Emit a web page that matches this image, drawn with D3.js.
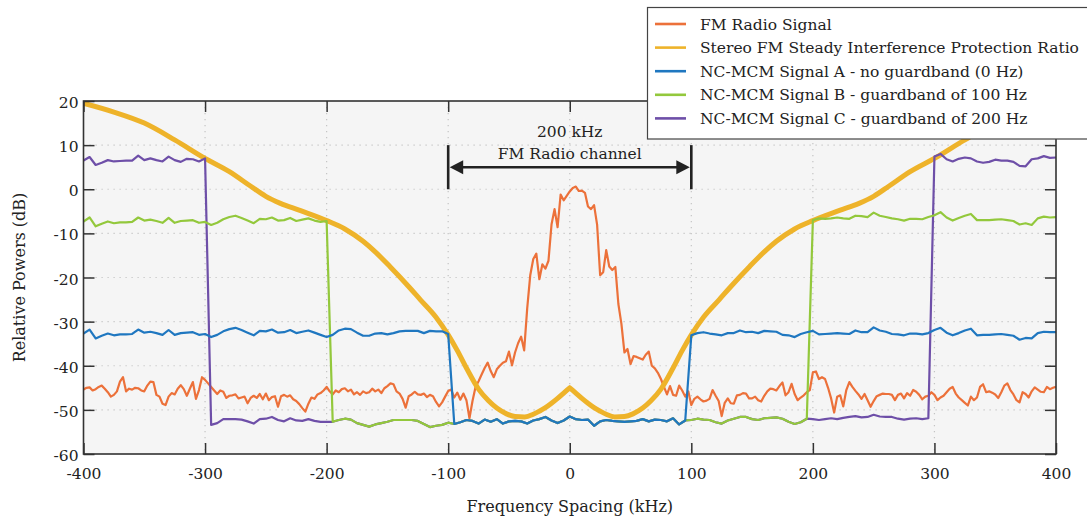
<!DOCTYPE html>
<html>
<head>
<meta charset="utf-8">
<script src="https://cdn.jsdelivr.net/npm/d3@7"></script>
<style>
  body { margin: 0; background: #fff; }
  svg text { font-family: "DejaVu Serif", serif; fill: #222; }
</style>
</head>
<body>
<div id="chart"></div>
<script>
// FM radio signal, sampled every 2.5 kHz from -400 kHz
var fmStart = -400, fmStep = 2.5;
var fmPower = [
  -45.4,-45.0,-44.9,-45.6,-45.3,-44.8,-44.5,-45.2,-46.0,-47.0,-46.6,-45.8,-43.6,-42.6,-45.8,-45.2,-45.4,-45.0,-45.1,-45.6,
  -45.8,-44.5,-43.6,-43.7,-46.6,-47.0,-48.6,-48.9,-47.0,-46.2,-46.5,-45.2,-44.4,-45.3,-46.8,-45.2,-43.7,-47.5,-45.5,-42.6,
  -43.2,-44.0,-44.8,-45.6,-46.4,-45.6,-45.9,-47.3,-46.8,-46.7,-46.5,-47.4,-47.2,-47.0,-48.5,-47.3,-46.8,-47.3,-46.4,-47.6,
  -46.3,-47.8,-47.1,-46.9,-49.3,-46.9,-46.6,-47.0,-46.7,-47.6,-48.0,-48.7,-49.6,-50.4,-48.6,-47.2,-47.5,-46.5,-46.2,-45.6,
  -44.8,-45.8,-46.5,-45.6,-46.0,-45.3,-45.1,-45.8,-45.4,-46.5,-46.0,-46.6,-45.8,-46.2,-46.0,-45.2,-45.8,-45.4,-46.2,-45.1,
  -44.6,-44.0,-44.2,-45.8,-46.3,-47.5,-49.5,-46.9,-46.5,-45.9,-46.5,-46.6,-46.3,-47.1,-46.6,-46.9,-48.2,-49.2,-48.3,-47.0,
  -45.7,-45.4,-47.2,-46.1,-47.7,-46.3,-47.8,-51.9,-48.0,-44.8,-43.5,-42.0,-40.5,-39.3,-41.2,-42.6,-40.8,-40.0,-39.3,-39.0,
  -36.8,-39.9,-37.0,-34.9,-33.4,-36.5,-27.0,-19.5,-15.8,-14.6,-20.4,-17.0,-18.0,-16.2,-8.0,-4.5,-8.6,-1.2,-2.5,-1.5,
  -0.5,0.3,0.6,-0.4,-0.3,-0.8,-3.9,-4.5,-3.6,-8.0,-19.5,-18.8,-13.8,-17.5,-18.3,-17.6,-26.0,-30.5,-37.0,-36.2,
  -39.6,-37.8,-38.0,-38.3,-38.6,-37.5,-36.8,-40.0,-40.6,-41.6,-43.0,-44.8,-46.5,-44.6,-46.6,-46.8,-44.5,-45.6,-47.0,-45.8,
  -48.9,-47.5,-47.0,-47.6,-48.1,-47.9,-47.5,-45.5,-46.8,-48.0,-51.4,-48.4,-47.4,-48.5,-48.6,-46.7,-46.6,-46.2,-46.3,-47.4,
  -47.4,-47.0,-47.8,-48.1,-46.8,-45.8,-45.2,-45.3,-45.6,-44.6,-43.8,-46.7,-46.0,-44.1,-46.4,-47.8,-47.2,-46.7,-46.0,-45.5,
  -41.5,-41.3,-43.0,-42.6,-43.0,-45.0,-47.4,-50.6,-47.0,-46.7,-49.2,-45.5,-43.7,-44.8,-45.7,-46.5,-47.5,-46.4,-47.8,-49.3,
  -48.0,-46.9,-46.6,-46.3,-46.4,-46.4,-46.6,-47.8,-46.6,-46.3,-47.4,-46.2,-46.8,-45.5,-45.9,-46.6,-47.6,-47.0,-46.8,-46.0,
  -46.6,-47.8,-47.2,-46.8,-46.0,-45.2,-44.8,-46.3,-47.2,-47.8,-48.4,-49.0,-47.0,-47.8,-47.2,-44.8,-44.2,-46.0,-45.8,-46.1,
  -46.5,-47.3,-46.0,-44.5,-44.0,-45.5,-46.5,-47.8,-48.3,-46.0,-46.4,-47.2,-45.8,-44.9,-45.4,-45.9,-46.0,-44.8,-45.3,-45.0,
  -44.8
];

// NC-MCM signals, sampled every 5 kHz from -400 kHz
var ncStart = -400, ncStep = 5;
var sigA = [
  -32.7,-31.8,-33.8,-33.2,-32.7,-33.1,-32.9,-32.9,-32.8,-31.8,-32.5,-32.3,-32.6,-33.0,-31.9,-33.0,-32.6,-32.5,-32.4,-33.0,
  -32.8,-33.5,-33.0,-32.2,-31.7,-31.4,-31.9,-32.5,-33.1,-32.1,-32.2,-31.8,-32.5,-32.4,-31.9,-32.6,-32.3,-32.0,-32.5,-33.0,
  -33.5,-33.0,-32.0,-31.6,-31.7,-32.5,-33.2,-33.2,-32.7,-32.6,-32.9,-32.6,-32.2,-32.1,-32.1,-32.1,-32.6,-32.1,-32.2,-32.2,
  -32.8,-53.2,-52.8,-52.3,-52.5,-53.1,-52.2,-52.7,-52.1,-53.1,-52.6,-52.5,-52.6,-53.1,-52.4,-52.1,-51.6,-52.4,-53.0,-52.4,
  -51.5,-52.1,-52.3,-52.2,-53.6,-52.6,-52.3,-52.5,-52.6,-52.7,-52.6,-52.5,-52.1,-52.6,-52.2,-52.3,-52.6,-51.9,-53.3,-52.4,
  -33.1,-32.6,-32.4,-32.7,-32.9,-33.1,-32.6,-32.6,-32.0,-32.4,-32.3,-32.6,-32.1,-32.2,-32.3,-33.0,-33.1,-33.5,-32.8,-32.4,
  -32.1,-32.9,-32.8,-32.7,-32.6,-32.7,-32.8,-32.0,-32.4,-32.4,-31.3,-32.0,-32.3,-32.8,-32.9,-33.1,-32.7,-32.7,-32.9,-32.6,
  -31.9,-31.4,-32.5,-33.1,-32.6,-32.0,-31.6,-33.1,-33.0,-33.0,-32.9,-32.8,-33.0,-33.2,-34.1,-33.7,-33.8,-32.6,-32.3,-32.4,
  -32.4
];
var sigB = [
  -7.3,-6.4,-8.4,-7.8,-7.3,-7.7,-7.5,-7.5,-7.4,-6.4,-7.1,-6.9,-7.2,-7.6,-6.5,-7.6,-7.2,-7.1,-7.0,-7.6,
  -7.4,-8.1,-7.6,-6.8,-6.3,-6.0,-6.5,-7.1,-7.7,-6.7,-6.8,-6.4,-7.1,-7.0,-6.5,-7.2,-6.9,-6.6,-7.1,-7.4,
  -7.2,-52.7,-52.3,-52.0,-52.2,-53.0,-53.4,-53.8,-53.3,-53.0,-52.7,-52.3,-52.3,-52.3,-52.3,-52.5,-53.2,-53.9,-53.6,-53.4,
  -52.9,-53.2,-52.8,-52.3,-52.5,-53.1,-52.2,-52.7,-52.1,-53.1,-52.6,-52.5,-52.6,-53.1,-52.4,-52.1,-51.6,-52.4,-53.0,-52.4,
  -51.5,-52.1,-52.3,-52.2,-53.6,-52.6,-52.3,-52.5,-52.6,-52.7,-52.6,-52.5,-52.1,-52.6,-52.2,-52.3,-52.6,-51.9,-53.3,-52.4,
  -52.3,-52.0,-52.2,-52.3,-52.8,-53.1,-52.4,-52.0,-51.6,-51.6,-52.1,-52.3,-51.9,-51.8,-51.7,-52.0,-52.7,-53.2,-52.8,-52.0,
  -7.0,-6.6,-6.7,-6.6,-6.4,-6.6,-6.7,-6.0,-6.1,-6.3,-5.3,-6.0,-6.3,-6.6,-6.8,-7.1,-6.7,-6.7,-6.8,-6.3,
  -5.9,-5.2,-6.4,-7.1,-6.5,-6.0,-5.6,-7.0,-7.0,-7.0,-6.9,-6.8,-7.0,-7.2,-8.0,-7.7,-8.1,-6.6,-6.2,-6.4,
  -6.3
];
var sigC = [
  6.5,7.3,5.5,6.0,6.6,6.3,6.4,6.5,6.5,7.6,6.6,7.0,6.6,6.3,7.4,6.6,6.2,6.9,6.8,6.3,
  7.0,-53.4,-53.0,-52.1,-52.1,-52.1,-52.2,-52.6,-53.1,-52.1,-52.0,-51.6,-52.3,-52.6,-51.9,-52.4,-52.5,-52.1,-52.5,-52.7,
  -52.7,-52.7,-52.3,-52.0,-52.2,-53.0,-53.4,-53.8,-53.3,-53.0,-52.7,-52.3,-52.3,-52.3,-52.3,-52.5,-53.2,-53.9,-53.6,-53.4,
  -52.9,-53.2,-52.8,-52.3,-52.5,-53.1,-52.2,-52.7,-52.1,-53.1,-52.6,-52.5,-52.6,-53.1,-52.4,-52.1,-51.6,-52.4,-53.0,-52.4,
  -51.5,-52.1,-52.3,-52.2,-53.6,-52.6,-52.3,-52.5,-52.6,-52.7,-52.6,-52.5,-52.1,-52.6,-52.2,-52.3,-52.6,-51.9,-53.3,-52.4,
  -52.3,-52.0,-52.2,-52.3,-52.8,-53.1,-52.4,-52.0,-51.6,-51.6,-52.1,-52.3,-51.9,-51.8,-51.7,-52.0,-52.7,-53.2,-52.8,-52.0,
  -52.1,-52.3,-52.1,-51.9,-52.1,-51.8,-51.6,-51.4,-51.7,-51.6,-51.1,-51.5,-51.6,-51.6,-52.0,-52.2,-52.0,-51.9,-52.1,-51.9,
  7.4,8.0,6.8,6.3,6.9,7.2,7.0,6.3,6.0,6.2,6.7,6.5,6.5,6.2,5.3,5.2,6.8,7.0,7.5,7.1,
  7.2
];

// Stereo FM steady interference protection ratio
var ppFreq = [-400,-375,-350,-325,-300,-280,-263,-250,-238,-222,-200,-185,-170,-160,-148,-132,-123,-110,-100,-92,-85,-75,-67,-60,-52,-45,-37,-30,-25,-20,-15,-10,-5,0,
              5,10,15,20,25,30,37,45,52,60,67,75,85,92,100,110,123,132,148,160,170,185,200,222,238,250,263,280,300,325,350,375,400];
var ppLevel = [19.5,17.5,15.0,11.2,7.0,4.0,0.8,-1.6,-3.2,-4.8,-7.1,-9.0,-11.8,-14.2,-17.5,-22.2,-25.0,-29.0,-33.0,-36.8,-40.5,-45.3,-47.9,-49.6,-50.9,-51.5,-51.6,-51.0,-50.3,-49.5,-48.5,-47.4,-46.2,-45.0,
               -46.2,-47.4,-48.5,-49.5,-50.3,-51.0,-51.6,-51.5,-50.9,-49.6,-47.9,-45.3,-40.5,-36.8,-33.0,-29.0,-25.0,-22.2,-17.5,-14.2,-11.8,-9.0,-7.1,-4.8,-3.2,-1.6,0.8,4.0,7.0,11.2,15.0,17.5,19.5];

var xTicks = [-400,-300,-200,-100,0,100,200,300,400];
var yTicks = [-60,-50,-40,-30,-20,-10,0,10,20];

var legendNames = ["FM Radio Signal",
                   "Stereo FM Steady Interference Protection Ratio",
                   "NC-MCM Signal A - no guardband (0 Hz)",
                   "NC-MCM Signal B - guardband of 100 Hz",
                   "NC-MCM Signal C - guardband of 200 Hz"];
var legendColors = ["#ec713a", "#eeb32a", "#1f77c0", "#93c83c", "#6e4fa8"];

function init(){
  var W = 1087, H = 521;
  var left = 83.5, right = 1056, top = 101, bottom = 454;

  var svg = d3.select("#chart").append("svg")
    .attr("width", W).attr("height", H);

  var x = d3.scaleLinear().domain([-400, 400]).range([left, right]);
  var y = d3.scaleLinear().domain([-60, 20]).range([bottom, top]);

  // plot background
  svg.append("rect")
    .attr("x", left).attr("y", top)
    .attr("width", right - left).attr("height", bottom - top)
    .style("fill", "#f5f5f5");

  // dotted grid
  var grid = svg.append("g")
    .style("stroke", "#c4c4c4").style("stroke-width", 1.2)
    .style("stroke-dasharray", "1.2,4.8");
  grid.selectAll("vline").data(xTicks.slice(1, -1)).enter().append("line")
    .attr("x1", function(d){ return x(d); }).attr("x2", function(d){ return x(d); })
    .attr("y1", top).attr("y2", bottom);
  grid.selectAll("hline").data(yTicks.slice(1, -1)).enter().append("line")
    .attr("y1", function(d){ return y(d); }).attr("y2", function(d){ return y(d); })
    .attr("x1", left).attr("x2", right);

  svg.append("clipPath").attr("id", "clip")
    .append("rect").attr("x", left).attr("y", top)
    .attr("width", right - left).attr("height", bottom - top);

  var plot = svg.append("g").attr("clip-path", "url(#clip)");

  var line = d3.line()
    .x(function(d){ return x(d[0]); })
    .y(function(d){ return y(d[1]); });

  function pts(arr, start, step){
    return arr.map(function(v, i){ return [start + i * step, v]; });
  }

  // FM radio signal
  plot.append("path")
    .attr("d", line(pts(fmPower, fmStart, fmStep)))
    .style("fill", "none").style("stroke", legendColors[0])
    .style("stroke-width", 2.2).style("stroke-linejoin", "round");

  // protection ratio: two smooth halves meeting in a cusp at 0
  var pp = ppFreq.map(function(f, i){ return [f, ppLevel[i]]; });
  var smooth = d3.line()
    .x(function(d){ return x(d[0]); })
    .y(function(d){ return y(d[1]); })
    .curve(d3.curveMonotoneX);
  var mid = ppFreq.indexOf(0);
  plot.append("path")
    .attr("d", smooth(pp.slice(0, mid + 1)) + smooth(pp.slice(mid)))
    .style("fill", "none").style("stroke", legendColors[1])
    .style("stroke-width", 5).style("stroke-linecap", "round")
    .style("stroke-linejoin", "round");

  // NC-MCM signals, C under B under A
  [[sigC, 4], [sigB, 3], [sigA, 2]].forEach(function(s){
    plot.append("path")
      .attr("d", line(pts(s[0], ncStart, ncStep)))
      .style("fill", "none").style("stroke", legendColors[s[1]])
      .style("stroke-width", 2.2).style("stroke-linejoin", "round");
  });

  // axes with inward ticks on all four sides, plain hyphen minus in labels
  var plain = function(d){ return String(d); };
  function styleAxis(g){
    g.select(".domain").remove();
    g.selectAll(".tick line").style("stroke", "#333").style("stroke-width", 1.5);
    g.selectAll(".tick text").style("font-size", "15.5px")
      .style("font-family", "DejaVu Serif").style("fill", "#222");
  }
  svg.append("g").attr("transform", "translate(0," + bottom + ")")
    .call(d3.axisBottom(x).tickValues(xTicks).tickFormat(plain).tickSizeInner(-11).tickSizeOuter(0).tickPadding(14))
    .call(styleAxis);
  svg.append("g").attr("transform", "translate(" + left + ",0)")
    .call(d3.axisLeft(y).tickValues(yTicks).tickFormat(plain).tickSizeInner(-11).tickSizeOuter(0).tickPadding(5))
    .call(styleAxis)
    .selectAll(".tick text").attr("dy", "0.42em");
  svg.append("g").attr("transform", "translate(0," + top + ")")
    .call(d3.axisTop(x).tickValues(xTicks).tickSizeInner(-11).tickSizeOuter(0).tickFormat(""))
    .call(styleAxis);
  svg.append("g").attr("transform", "translate(" + right + ",0)")
    .call(d3.axisRight(y).tickValues(yTicks).tickSizeInner(-11).tickSizeOuter(0).tickFormat(""))
    .call(styleAxis);

  svg.append("rect")
    .attr("x", left).attr("y", top)
    .attr("width", right - left).attr("height", bottom - top)
    .style("fill", "none").style("stroke", "#333").style("stroke-width", 1.6);

  // axis titles
  svg.append("text")
    .attr("text-anchor", "middle")
    .attr("x", (left + right) / 2).attr("y", 512)
    .style("font-size", "16px")
    .text("Frequency Spacing (kHz)");
  svg.append("text")
    .attr("text-anchor", "middle")
    .attr("transform", "translate(25," + (top + bottom) / 2 + ") rotate(-90)")
    .style("font-size", "16px")
    .text("Relative Powers (dB)");

  // FM channel annotation
  var ann = svg.append("g");
  [-100, 100].forEach(function(f){
    ann.append("line")
      .attr("x1", x(f)).attr("x2", x(f))
      .attr("y1", y(0)).attr("y2", y(10))
      .style("stroke", "#222").style("stroke-width", 2.6);
  });
  ann.append("line")
    .attr("x1", x(-100) + 6).attr("x2", x(100) - 6)
    .attr("y1", y(5)).attr("y2", y(5))
    .style("stroke", "#222").style("stroke-width", 2.4);
  var ay = y(5);
  ann.append("path")
    .attr("d", "M" + (x(-100) + 1.5) + "," + ay + "L" + (x(-100) + 15) + "," + (ay - 7) + "L" + (x(-100) + 15) + "," + (ay + 7) + "Z")
    .style("fill", "#222");
  ann.append("path")
    .attr("d", "M" + (x(100) - 1.5) + "," + ay + "L" + (x(100) - 15) + "," + (ay - 7) + "L" + (x(100) - 15) + "," + (ay + 7) + "Z")
    .style("fill", "#222");
  ann.append("text").attr("text-anchor", "middle")
    .attr("x", x(0)).attr("y", 137).style("font-size", "15.5px")
    .text("200 kHz");
  ann.append("text").attr("text-anchor", "middle")
    .attr("x", x(0)).attr("y", 158.5).style("font-size", "15.5px")
    .text("FM Radio channel");

  // legend
  var lg = svg.append("g");
  lg.append("rect")
    .attr("x", 647.5).attr("y", 7.5)
    .attr("width", 460).attr("height", 131.5)
    .style("fill", "#fff").style("stroke", "#444").style("stroke-width", 1.2);
  lg.selectAll("mylines").data(legendNames).enter().append("line")
    .attr("x1", 655).attr("x2", 686)
    .attr("y1", function(d, i){ return 24 + i * 23.6; })
    .attr("y2", function(d, i){ return 24 + i * 23.6; })
    .style("stroke", function(d, i){ return legendColors[i]; })
    .style("stroke-width", 2.6);
  lg.selectAll("mylabels").data(legendNames).enter().append("text")
    .attr("x", 700)
    .attr("y", function(d, i){ return 24 + i * 23.6; })
    .attr("dy", "0.36em")
    .style("font-size", "15.5px")
    .text(function(d){ return d; });
}
window.onload = init;
</script>
</body>
</html>
